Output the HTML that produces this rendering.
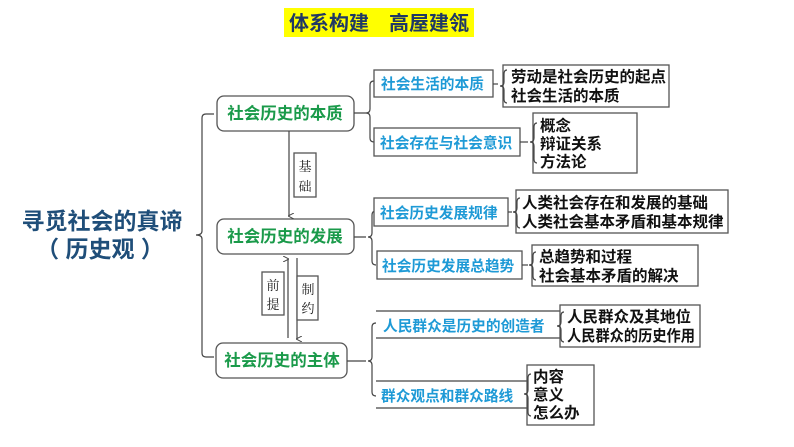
<!DOCTYPE html>
<html><head><meta charset="utf-8"><style>
html,body{margin:0;padding:0;background:#fff;}
svg{display:block;}
text{font-family:"Liberation Sans","Noto Sans CJK SC",sans-serif;font-weight:bold;}
.g{fill:#1a9a4a;font-size:16.5px;}
.b{fill:#1e9ad6;font-size:14.7px;}
.k{fill:#111;font-size:15.5px;}
.s{fill:#222;font-size:13px;font-weight:normal;font-family:"Noto Serif CJK SC","Liberation Serif",serif;}
.ln{stroke:#444;stroke-width:1.2;fill:none;}
.bx{stroke:#555;stroke-width:1.3;fill:#fff;}
</style></head><body>
<svg width="794" height="447" viewBox="0 0 794 447">
<defs><marker id="ar" markerWidth="6" markerHeight="6" refX="3" refY="5" orient="auto-start-reverse" markerUnits="userSpaceOnUse"><path d="M0,0 L3,6 L6,0" fill="none" stroke="#444" stroke-width="1"/></marker></defs>
<rect x="284" y="8" width="190" height="29" fill="#ffff00"/>
<text x="379" y="30" text-anchor="middle" style="fill:#1f3864;font-size:20px">体系构建　高屋建瓴</text>

<text x="102" y="229" text-anchor="middle" style="fill:#1f4e79;font-size:23px">寻觅社会的真谛</text>
<text x="100" y="257" text-anchor="middle" style="fill:#1f4e79;font-size:23px">（ 历史观 ）</text>

<path class="ln" d="M214,114 H206 Q202,114 202,118 V231 Q202,235 196,235 Q202,235 202,239 V353 Q202,357 206,357 H214"/>

<rect class="bx" x="217" y="96" width="137" height="35" rx="7"/>
<text class="g" x="285" y="119" text-anchor="middle">社会历史的本质</text>
<rect class="bx" x="217" y="219" width="137" height="35" rx="7"/>
<text class="g" x="285" y="242" text-anchor="middle">社会历史的发展</text>
<rect class="bx" x="216" y="343" width="131" height="35" rx="7"/>
<text class="g" x="282" y="366" text-anchor="middle">社会历史的主体</text>

<line class="ln" x1="289" y1="131" x2="289" y2="216" marker-end="url(#ar)"/>
<rect class="bx" x="294" y="153" width="22" height="44"/>
<text class="s" x="305" y="171" text-anchor="middle">基</text>
<text class="s" x="305" y="191" text-anchor="middle">础</text>
<line class="ln" x1="288" y1="338" x2="288" y2="259" marker-end="url(#ar)"/>
<line class="ln" x1="297" y1="258" x2="297" y2="339" marker-end="url(#ar)"/>
<rect class="bx" x="262" y="272" width="22" height="43"/>
<text class="s" x="273" y="290" text-anchor="middle">前</text>
<text class="s" x="273" y="309" text-anchor="middle">提</text>
<rect class="bx" x="297" y="276" width="21" height="44"/>
<text class="s" x="308" y="294" text-anchor="middle">制</text>
<text class="s" x="308" y="313" text-anchor="middle">约</text>

<path class="ln" d="M354,113 H366 M374,81 Q370,81 370,85 V109 Q370,113 366,113 Q370,113 370,117 V138 Q370,142 374,142"/>
<path class="ln" d="M354,237 H366 M376,211 Q372,211 372,215 V233 Q372,237 368,237 Q372,237 372,241 V261 Q372,265 376,265"/>
<path class="ln" d="M347,361 H366 M376,323 Q372,323 372,327 V357 Q372,361 368,361 Q372,361 372,365 V392 Q372,396 376,396"/>

<rect class="bx" x="374" y="70" width="119" height="27"/>
<text class="b" x="381" y="89">社会生活的本质</text>
<rect class="bx" x="374" y="128" width="146" height="28"/>
<text class="b" x="380" y="148">社会存在与社会意识</text>
<rect class="bx" x="374" y="198" width="134" height="28"/>
<text class="b" x="380" y="218">社会历史发展规律</text>
<rect class="bx" x="377" y="251" width="145" height="28"/>
<text class="b" x="382" y="271">社会历史发展总趋势</text>
<path class="ln" d="M376,311 H560 M376,338 H560"/>
<text class="b" x="383" y="331">人民群众是历史的创造者</text>
<path class="ln" d="M376,381 H527 M376,408 H527"/>
<text class="b" x="381" y="401">群众观点和群众路线</text>

<path class="ln" d="M493,84 H498"/>
<rect class="bx" x="503" y="65" width="166" height="42"/>
<path class="ln" d="M507,70 Q504,70 504,74 V82 Q504,86 500,86 Q504,86 504,90 V99 Q504,103 507,103"/>
<text class="k" x="511" y="82">劳动是社会历史的起点</text>
<text class="k" x="511" y="101">社会生活的本质</text>

<path class="ln" d="M520,142 H528"/>
<rect class="bx" x="533" y="113" width="104" height="60"/>
<path class="ln" d="M537,123 Q534,123 534,127 V138 Q534,142 530,142 Q534,142 534,146 V159 Q534,163 537,163"/>
<text class="k" x="540" y="131">概念</text>
<text class="k" x="540" y="149">辩证关系</text>
<text class="k" x="540" y="167">方法论</text>

<path class="ln" d="M508,212 H512"/>
<rect class="bx" x="516" y="190" width="212" height="43"/>
<path class="ln" d="M520,198 Q517,198 517,202 V208 Q517,212 513,212 Q517,212 517,216 V224 Q517,228 520,228"/>
<text class="k" x="522" y="208">人类社会存在和发展的基础</text>
<text class="k" x="522" y="227">人类社会基本矛盾和基本规律</text>

<path class="ln" d="M522,265 H528"/>
<rect class="bx" x="532" y="245" width="166" height="41"/>
<path class="ln" d="M536,252 Q533,252 533,256 V261 Q533,265 529,265 Q533,265 533,269 V276 Q533,280 536,280"/>
<text class="k" x="539" y="262">总趋势和过程</text>
<text class="k" x="539" y="281">社会基本矛盾的解决</text>

<rect class="bx" x="560" y="305" width="140" height="42"/>
<path class="ln" d="M564,312 Q561,312 561,316 V322 Q561,326 557,326 Q561,326 561,330 V338 Q561,342 564,342"/>
<text class="k" x="567" y="322">人民群众及其地位</text>
<text class="k" x="567" y="341" textLength="128" lengthAdjust="spacingAndGlyphs">人民群众的历史作用</text>

<rect class="bx" x="527" y="365" width="67" height="60"/>
<path class="ln" d="M531,374 Q528,374 528,378 V390 Q528,394 524,394 Q528,394 528,398 V412 Q528,416 531,416"/>
<text class="k" x="533" y="382">内容</text>
<text class="k" x="533" y="400">意义</text>
<text class="k" x="533" y="418">怎么办</text>
</svg>
</body></html>
